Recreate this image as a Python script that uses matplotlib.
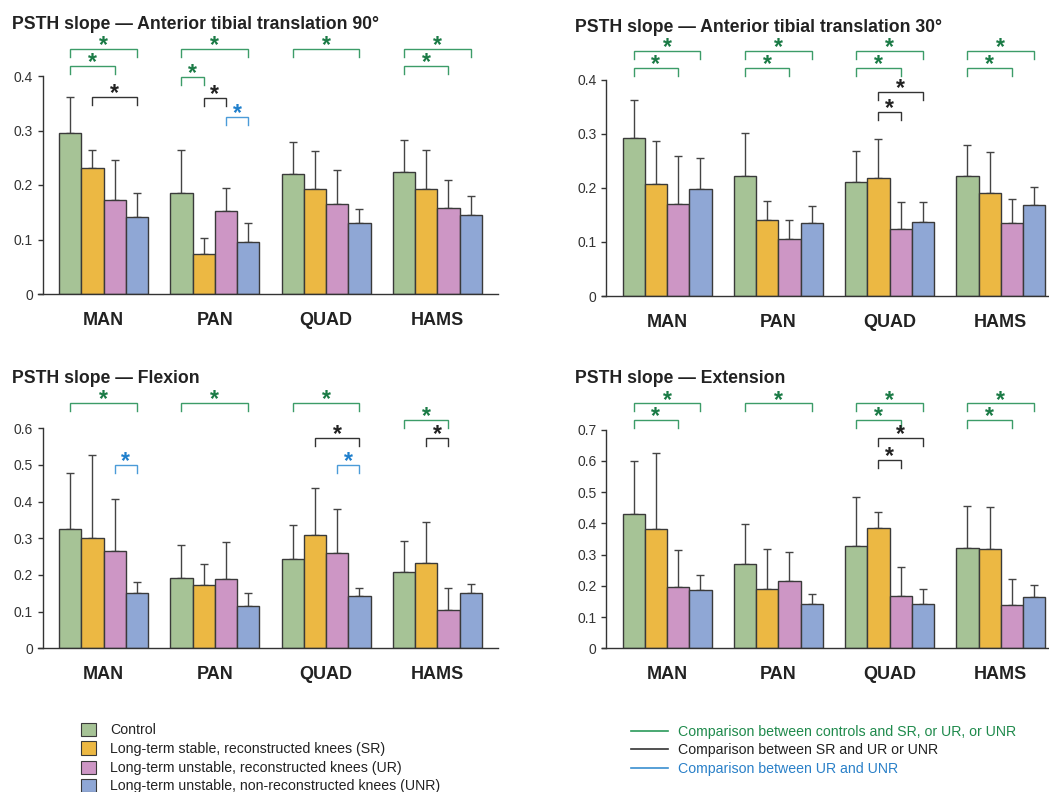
import matplotlib
matplotlib.use("Agg")
import matplotlib.pyplot as plt
from matplotlib.patches import Rectangle
from matplotlib.lines import Line2D
import numpy as np

plt.rcParams['font.family'] = ['Liberation Sans', 'DejaVu Sans']

# ---------------- data ----------------
categories = ["MAN", "PAN", "QUAD", "HAMS"]
groups = ["Control",
          "Long-term stable, reconstructed knees (SR)",
          "Long-term unstable, reconstructed knees (UR)",
          "Long-term unstable, non-reconstructed knees (UNR)"]

titles = ["PSTH slope \u2014 Anterior tibial translation 90\u00b0",
          "PSTH slope \u2014 Anterior tibial translation 30\u00b0",
          "PSTH slope \u2014 Flexion",
          "PSTH slope \u2014 Extension"]

# means: rows = categories (MAN, PAN, QUAD, HAMS), cols = groups (Control, SR, UR, UNR)
att90_mean = [[0.296, 0.231, 0.173, 0.142],
              [0.186, 0.073, 0.152, 0.095],
              [0.221, 0.193, 0.165, 0.131],
              [0.223, 0.193, 0.158, 0.145]]
att90_top = [[0.362, 0.265, 0.245, 0.186],
             [0.264, 0.102, 0.194, 0.131],
             [0.278, 0.263, 0.228, 0.156],
             [0.283, 0.265, 0.209, 0.180]]

att30_mean = [[0.293, 0.208, 0.171, 0.197],
              [0.222, 0.141, 0.106, 0.135],
              [0.210, 0.218, 0.123, 0.137],
              [0.222, 0.191, 0.135, 0.168]]
att30_top = [[0.362, 0.287, 0.258, 0.255],
             [0.302, 0.176, 0.141, 0.167],
             [0.269, 0.291, 0.174, 0.174],
             [0.279, 0.267, 0.180, 0.202]]

flex_mean = [[0.326, 0.302, 0.265, 0.150],
             [0.191, 0.172, 0.188, 0.115],
             [0.243, 0.308, 0.261, 0.144],
             [0.207, 0.234, 0.105, 0.150]]
flex_top = [[0.478, 0.527, 0.407, 0.180],
            [0.281, 0.230, 0.290, 0.150],
            [0.337, 0.437, 0.379, 0.165],
            [0.294, 0.345, 0.165, 0.176]]

ext_mean = [[0.430, 0.381, 0.197, 0.188],
            [0.269, 0.191, 0.217, 0.143],
            [0.329, 0.385, 0.169, 0.142],
            [0.321, 0.318, 0.138, 0.163]]
ext_top = [[0.600, 0.626, 0.314, 0.236],
           [0.399, 0.318, 0.309, 0.173],
           [0.483, 0.438, 0.261, 0.191],
           [0.456, 0.452, 0.221, 0.202]]

y_max = [0.4, 0.4, 0.6, 0.7]

# significance brackets: (category index, bar i, bar j, height, kind)
att90_sig = [(0, 0, 3, 0.449, "g"), (0, 0, 2, 0.418, "g"), (0, 1, 3, 0.361, "k"),
             (1, 0, 3, 0.449, "g"), (1, 0, 1, 0.398, "g"), (1, 1, 2, 0.359, "k"),
             (1, 2, 3, 0.324, "b"),
             (2, 0, 3, 0.449, "g"),
             (3, 0, 3, 0.449, "g"), (3, 0, 2, 0.418, "g")]
att30_sig = [(0, 0, 3, 0.453, "g"), (0, 0, 2, 0.422, "g"),
             (1, 0, 3, 0.453, "g"), (1, 0, 2, 0.422, "g"),
             (2, 0, 3, 0.453, "g"), (2, 0, 2, 0.422, "g"), (2, 1, 3, 0.377, "k"),
             (2, 1, 2, 0.340, "k"),
             (3, 0, 3, 0.453, "g"), (3, 0, 2, 0.422, "g")]
flex_sig = [(0, 0, 3, 0.668, "g"), (0, 2, 3, 0.501, "b"),
            (1, 0, 3, 0.668, "g"),
            (2, 0, 3, 0.668, "g"), (2, 1, 3, 0.573, "k"), (2, 2, 3, 0.501, "b"),
            (3, 0, 2, 0.623, "g"), (3, 1, 2, 0.573, "k")]
ext_sig = [(0, 0, 3, 0.784, "g"), (0, 0, 2, 0.731, "g"),
           (1, 0, 3, 0.784, "g"),
           (2, 0, 3, 0.784, "g"), (2, 0, 2, 0.731, "g"), (2, 1, 3, 0.672, "k"),
           (2, 1, 2, 0.603, "k"),
           (3, 0, 3, 0.784, "g"), (3, 0, 2, 0.731, "g")]

means = [att90_mean, att30_mean, flex_mean, ext_mean]
tops = [att90_top, att30_top, flex_top, ext_top]
sigs = [att90_sig, att30_sig, flex_sig, ext_sig]

comparison_labels = ["Comparison between controls and SR, or UR, or UNR",
                     "Comparison between SR and UR or UNR",
                     "Comparison between UR and UNR"]

# ---------------- style ----------------
bar_colors = ["#a6c396", "#ecb843", "#cd96c5", "#8fa7d5"]
edge_col = "#3a3a3a"
bracket_col = {"g": "#3c9c68", "k": "#333333", "b": "#4b9bd8"}
star_col = {"g": "#1b7b46", "k": "#222222", "b": "#1f7fcc"}
legend_text_col = ["#1f8a4c", "#222222", "#2a80c8"]
legend_line_col = ["#2a9a5a", "#333333", "#3a8fd0"]

W, H = 1049, 792
fig = plt.figure(figsize=(W / 100, H / 100), dpi=100)

group_step = 5.0
bar_w = 1.0
xl, xr, spine_x = -2.944, 17.72, -2.72
unit_px = 22.25
axes_px = [(38.0, 294.0, 76.0), (601.5, 296.0, 79.7),
           (38.0, 648.3, 428.3), (601.5, 648.3, 429.7)]
title_pos = [(12, 29.3), (575, 31.7), (12, 383.3), (575, 383.3)]

px2pt = 72.0 / 100.0

for p in range(4):
    lpx, bpx, tpx = axes_px[p]
    wpx = (xr - xl) * unit_px
    ax = fig.add_axes([lpx / W, 1 - bpx / H, wpx / W, (bpx - tpx) / H])
    ax.set_xlim(xl, xr)
    ax.set_ylim(0, y_max[p])
    ymax = y_max[p]
    per_px = ymax / (bpx - tpx)

    m = np.array(means[p])
    t = np.array(tops[p])
    centers = np.arange(len(categories)) * group_step
    for i in range(4):
        xs = centers + (i - 1.5) * bar_w
        ax.bar(xs, m[:, i], width=bar_w, color=bar_colors[i], edgecolor=edge_col,
               linewidth=1.0, zorder=2)
        ax.errorbar(xs, m[:, i], yerr=[np.zeros(4), t[:, i] - m[:, i]], fmt="none",
                    ecolor="#444444", elinewidth=1.0, capsize=2.6, capthick=1.0, zorder=1)

    # brackets
    leg = 8 * per_px
    for (c, i, j, h, kind) in sigs[p]:
        x0 = c * group_step + (i - 1.5) * bar_w
        x1 = c * group_step + (j - 1.5) * bar_w
        ax.plot([x0, x0, x1, x1], [h - leg, h, h, h - leg], color=bracket_col[kind],
                lw=1.0, clip_on=False, solid_joinstyle="miter")
        ax.annotate("*", xy=((x0 + x1) / 2, h), xytext=(0, -2.2),
                    textcoords="offset points", ha="center", va="baseline",
                    fontsize=16.5, fontweight="bold", color=star_col[kind],
                    annotation_clip=False)

    # spines and ticks
    for s in ["top", "right"]:
        ax.spines[s].set_visible(False)
    ax.spines["left"].set_position(("data", spine_x))
    ax.spines["left"].set_color("#333333")
    ax.spines["bottom"].set_color("#333333")
    ax.spines["left"].set_linewidth(1.0)
    ax.spines["bottom"].set_linewidth(1.0)
    yt = np.round(np.arange(0, ymax + 1e-9, 0.1), 1)
    ax.set_yticks(yt)
    ax.set_yticklabels(["0" if v == 0 else f"{v:.1f}" for v in yt])
    ax.tick_params(axis="y", direction="out", length=5 * px2pt, width=1.0,
                   color="#333333", pad=5 * px2pt, labelsize=10, labelcolor="#333333")
    ax.set_xticks(centers)
    ax.set_xticklabels(categories)
    ax.tick_params(axis="x", length=0, pad=31 * px2pt, labelsize=13)
    for lab in ax.get_xticklabels():
        lab.set_va("baseline")
        lab.set_fontweight("bold")
        lab.set_color("#222222")
    ax.patch.set_alpha(0)

    tx, ty = title_pos[p]
    fig.text(tx / W, 1 - ty / H, titles[p], fontsize=12.7, fontweight="bold",
             color="#222222", ha="left", va="baseline")

# ---------------- legends ----------------
sq_rows = [729.3, 748.0, 767.3, 785.3]
for k, lab in enumerate(groups):
    yc = sq_rows[k]
    fig.add_artist(Rectangle((81 / W, 1 - (yc + 6.6) / H), 15 / W, 13.3 / H,
                             transform=fig.transFigure, facecolor=bar_colors[k],
                             edgecolor=edge_col, linewidth=0.8))
    fig.text(110 / W, 1 - (yc + 5.0) / H, lab, fontsize=10.2, color="#222222",
             ha="left", va="baseline")

ln_rows = [730.7, 749.0, 767.7]
for k, lab in enumerate(comparison_labels):
    yc = ln_rows[k]
    fig.add_artist(Line2D([631 / W, 668 / W], [1 - yc / H, 1 - yc / H],
                          transform=fig.transFigure, color=legend_line_col[k], lw=1.2))
    fig.text(677.7 / W, 1 - (yc + 5.0) / H, lab, fontsize=10.2, color=legend_text_col[k],
             ha="left", va="baseline")

fig.savefig("out.png", dpi=100)
